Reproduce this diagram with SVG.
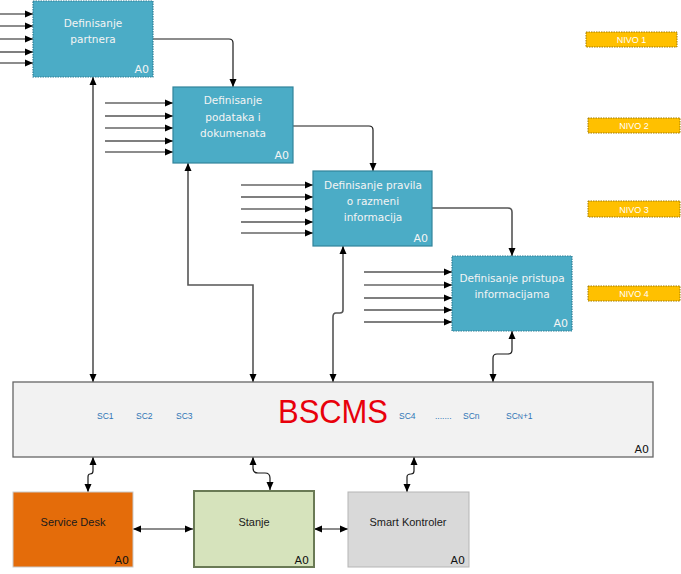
<svg xmlns="http://www.w3.org/2000/svg" width="681" height="574" viewBox="0 0 681 574">
<style>
.bx{fill:#4bacc6;stroke:#31849b;stroke-width:1.2}
.bxd{fill:#4bacc6;stroke:#2f7f96;stroke-width:1.2;stroke-dasharray:1.5 1}
.bt{font-family:"DejaVu Sans",sans-serif;font-size:10.5px;fill:#f4f4f4;text-anchor:middle}
.a0w{font-family:"DejaVu Sans",sans-serif;font-size:11px;fill:#f4f4f4;text-anchor:end}
.a0k{font-family:"DejaVu Sans",sans-serif;font-size:11px;fill:#111;text-anchor:end}
.c{fill:none;stroke:#1a1a1a;stroke-width:1.2}
.cg{fill:none;stroke:#555;stroke-width:1.6}
.nv{fill:#ffc000;stroke:#a07a00;stroke-width:1;stroke-dasharray:1.5 1}
.nt{font-family:"Liberation Sans",sans-serif;font-size:9px;fill:#fff;text-anchor:middle}
.sc{font-family:"Liberation Sans",sans-serif;font-size:8.5px;fill:#2e75b6}
.lt{font-family:"Liberation Sans",sans-serif;font-size:11px;fill:#1a1a1a;text-anchor:middle}
</style>
<defs>
<marker id="ar" markerUnits="userSpaceOnUse" markerWidth="9" markerHeight="8" refX="8" refY="4" orient="auto-start-reverse">
<path d="M0,0.5 L8,4 L0,7.5 z" fill="#000"/>
</marker>
</defs>
<rect width="681" height="574" fill="#fff"/>

<g id="nivo1"><rect class="nv" x="586" y="32" width="91" height="15"/><text class="nt" x="631.5" y="43">NIVO 1</text></g>
<g id="nivo2"><rect class="nv" x="588" y="118" width="92" height="15"/><text class="nt" x="634" y="129">NIVO 2</text></g>
<g id="nivo3"><rect class="nv" x="588" y="201" width="92" height="16"/><text class="nt" x="634" y="212.5">NIVO 3</text></g>
<g id="nivo4"><rect class="nv" x="588" y="286" width="92" height="15"/><text class="nt" x="634" y="297">NIVO 4</text></g>

<g id="connectors">
<!-- box1 inputs -->
<path class="c" d="M0,14 H33" marker-end="url(#ar)"/>
<path class="c" d="M0,26 H33" marker-end="url(#ar)"/>
<path class="c" d="M0,39 H33" marker-end="url(#ar)"/>
<path class="cg" d="M0,52 H33" marker-end="url(#ar)"/>
<path class="c" d="M0,63 H33" marker-end="url(#ar)"/>
<!-- box2 inputs -->
<path class="c" d="M105,103 H173" marker-end="url(#ar)"/>
<path class="cg" d="M105,116 H173" marker-end="url(#ar)"/>
<path class="c" d="M105,128 H173" marker-end="url(#ar)"/>
<path class="cg" d="M105,141 H173" marker-end="url(#ar)"/>
<path class="c" d="M105,152 H173" marker-end="url(#ar)"/>
<!-- box3 inputs -->
<path class="c" d="M241,185 H313" marker-end="url(#ar)"/>
<path class="cg" d="M241,197 H313" marker-end="url(#ar)"/>
<path class="c" d="M241,209 H313" marker-end="url(#ar)"/>
<path class="cg" d="M241,222 H313" marker-end="url(#ar)"/>
<path class="c" d="M241,233 H313" marker-end="url(#ar)"/>
<!-- box4 inputs -->
<path class="cg" d="M364,272 H452" marker-end="url(#ar)"/>
<path class="c" d="M364,285 H452" marker-end="url(#ar)"/>
<path class="cg" d="M364,298 H452" marker-end="url(#ar)"/>
<path class="cg" d="M364,310 H452" marker-end="url(#ar)"/>
<path class="cg" d="M364,322 H452" marker-end="url(#ar)"/>
<!-- outputs between levels -->
<path class="c" d="M153,39 H229 Q233,39 233,43 V87" marker-end="url(#ar)"/>
<path class="c" d="M293,126 H369 Q373,126 373,130 V171" marker-end="url(#ar)"/>
<path class="cg" d="M432,208 H508 Q512,208 512,212 V256" marker-end="url(#ar)"/>
<!-- level boxes to BSCMS -->
<path class="c" d="M93,77 V382" marker-start="url(#ar)" marker-end="url(#ar)"/>
<path class="cg" d="M188,163 V285 H253 V382" marker-start="url(#ar)" marker-end="url(#ar)"/>
<path class="cg" d="M343,246 V310 Q343,313 340,313 H336 Q333,313 333,317 V382" marker-start="url(#ar)" marker-end="url(#ar)"/>
<path class="c" d="M512,331 V350 Q512,354 508,354 H497 Q493,354 493,358 V382" marker-start="url(#ar)" marker-end="url(#ar)"/>
<!-- BSCMS to bottom boxes -->
<path class="c" d="M93,457 V471 Q93,474 90,474 Q88,474 88,477 V492" marker-start="url(#ar)" marker-end="url(#ar)"/>
<path class="c" d="M253,457 V468 Q253,473 258,473 H265 Q270,473 270,478 V490" marker-start="url(#ar)" marker-end="url(#ar)"/>
<path class="c" d="M414,457 V471 Q414,474 411,474 Q407,474 407,477 V492" marker-start="url(#ar)" marker-end="url(#ar)"/>
<path class="c" d="M133,529 H193" marker-start="url(#ar)" marker-end="url(#ar)"/>
<path class="c" d="M314,529 H348" marker-start="url(#ar)" marker-end="url(#ar)"/>
</g>

<g id="box1">
<rect class="bxd" x="33" y="1" width="120" height="76"/>
<text class="bt" x="93" y="27">Definisanje</text>
<text class="bt" x="93" y="43">partnera</text>
<text class="a0w" x="149" y="73">A0</text>
</g>
<g id="box2">
<rect class="bx" x="173" y="87" width="120" height="76"/>
<text class="bt" x="233" y="104">Definisanje</text>
<text class="bt" x="233" y="121">podataka i</text>
<text class="bt" x="233" y="137">dokumenata</text>
<text class="a0w" x="289" y="159">A0</text>
</g>
<g id="box3">
<rect class="bx" x="313" y="171" width="119" height="75"/>
<text class="bt" x="373" y="189">Definisanje pravila</text>
<text class="bt" x="373" y="205">o razmeni</text>
<text class="bt" x="373" y="221">informacija</text>
<text class="a0w" x="428" y="242">A0</text>
</g>
<g id="box4">
<rect class="bxd" x="452" y="256" width="120" height="75"/>
<text class="bt" x="512" y="282">Definisanje pristupa</text>
<text class="bt" x="512" y="298">informacijama</text>
<text class="a0w" x="568" y="327">A0</text>
</g>

<g id="bscms">
<rect x="13" y="382" width="640" height="75" fill="#f2f2f2" stroke="#666" stroke-width="1.3"/>
<text x="333" y="423" font-family="Liberation Sans,sans-serif" font-size="34" fill="#e8000b" text-anchor="middle" textLength="110" lengthAdjust="spacingAndGlyphs">BSCMS</text>
<text class="sc" x="97" y="419">SC1</text>
<text class="sc" x="136" y="419">SC2</text>
<text class="sc" x="176" y="419">SC3</text>
<text class="sc" x="399" y="419">SC4</text>
<text class="sc" x="435" y="419">.......</text>
<text class="sc" x="463" y="419">SCn</text>
<text class="sc" x="506" y="419">SC<tspan font-size="7px">N</tspan>+1</text>
<text class="a0k" x="649" y="453">A0</text>
</g>

<g id="servicedesk">
<rect x="13" y="492" width="120" height="75" fill="#e46c0a" stroke="#c9c9c9" stroke-width="1"/>
<text class="lt" x="73" y="526">Service Desk</text>
<text class="a0k" x="129" y="564">A0</text>
</g>
<g id="stanje">
<rect x="194" y="491" width="120" height="76" fill="#d6e3bc" stroke="#6a7a55" stroke-width="2"/>
<text class="lt" x="254" y="526">Stanje</text>
<text class="a0k" x="309" y="564">A0</text>
</g>
<g id="smartkontroler">
<rect x="348" y="492" width="121" height="75" fill="#d9d9d9" stroke="#b5b5b5" stroke-width="1"/>
<text class="lt" x="408" y="526">Smart Kontroler</text>
<text class="a0k" x="465" y="564">A0</text>
</g>
</svg>
